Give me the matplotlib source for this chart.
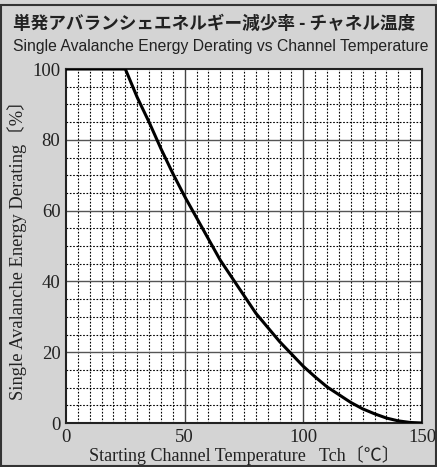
import matplotlib
matplotlib.use("Agg")
import matplotlib.pyplot as plt
from matplotlib.patches import Rectangle

# curve (channel temperature degC -> derating %)
temp = [0, 25, 30, 35, 40, 45, 50, 55, 60, 65, 70, 75, 80, 85, 90, 95,
        100, 105, 110, 115, 120, 125, 130, 135, 140, 145, 150]
derating = [100, 100, 92, 85, 77.5, 70.5, 64, 58, 52, 46, 41, 36, 31, 27,
            23, 19.5, 16, 13, 10.2, 8, 5.8, 4, 2.6, 1.4, 0.6, 0.15, 0]

title_jp = "単発アバランシェエネルギー減少率 - チャネル温度"
title_en = "Single Avalanche Energy Derating vs Channel Temperature"
xlabel = "Starting Channel Temperature   Tch〔℃〕"
ylabel = "Single Avalanche Energy Derating〔%〕"
xticks = [0, 50, 100, 150]
yticks = [0, 20, 40, 60, 80, 100]

W, H = 437, 467
fig = plt.figure(figsize=(W / 100, H / 100), dpi=100, facecolor="#d4d4d4")
ax = fig.add_axes([66 / W, 1 - 423 / H, (422 - 66) / W, (423 - 69) / H])
ax.set_facecolor("white")

serif = ["Liberation Serif", "Noto Sans CJK JP", "DejaVu Serif"]

# minor dotted grid
for x in range(5, 150, 5):
    if x % 50:
        ax.axvline(x, color="black", lw=0.8, ls=(0, (1.5, 1.5)), zorder=1)
for y in range(5, 100, 5):
    if y % 20:
        ax.axhline(y, color="black", lw=0.8, ls=(0, (1.5, 1.5)), zorder=1)
# major solid grid
for x in [50, 100]:
    ax.axvline(x, color="#444444", lw=1.0, zorder=2)
for y in [20, 40, 60, 80]:
    ax.axhline(y, color="#555555", lw=1.0, zorder=2)

ax.plot(temp, derating, color="black", lw=2.2, zorder=3)

ax.set_xlim(0, 150)
ax.set_ylim(0, 100)
ax.set_xticks(xticks)
ax.set_yticks(yticks)
ax.tick_params(length=0, pad=4, labelsize=13.5, colors="#222222")
for lab in ax.get_xticklabels() + ax.get_yticklabels():
    lab.set_family(serif)
for s in ax.spines.values():
    s.set_color("#222222")
    s.set_linewidth(1.5)

ax.set_xlabel(xlabel, family=serif, fontsize=13, color="#222222", labelpad=0)
ax.set_ylabel(ylabel, family=serif, fontsize=13.3, color="#222222", labelpad=4)

fig.text(13 / W, 1 - 24 / H, title_jp, family=["Noto Sans CJK JP", "DejaVu Sans"],
         fontsize=12.7, weight="bold", color="#222222", va="center", ha="left")
fig.text(13 / W, 1 - 46 / H, title_en,
         family=["Liberation Sans", "DejaVu Sans"],
         fontsize=11.3, color="#222222", va="center", ha="left")

fig.patches.append(Rectangle((1 / W, 1 / H), (W - 2) / W, (H - 6) / H,
                             transform=fig.transFigure, fill=False,
                             edgecolor="#333333", lw=1.5))

fig.savefig("out.png", dpi=100, facecolor=fig.get_facecolor())
